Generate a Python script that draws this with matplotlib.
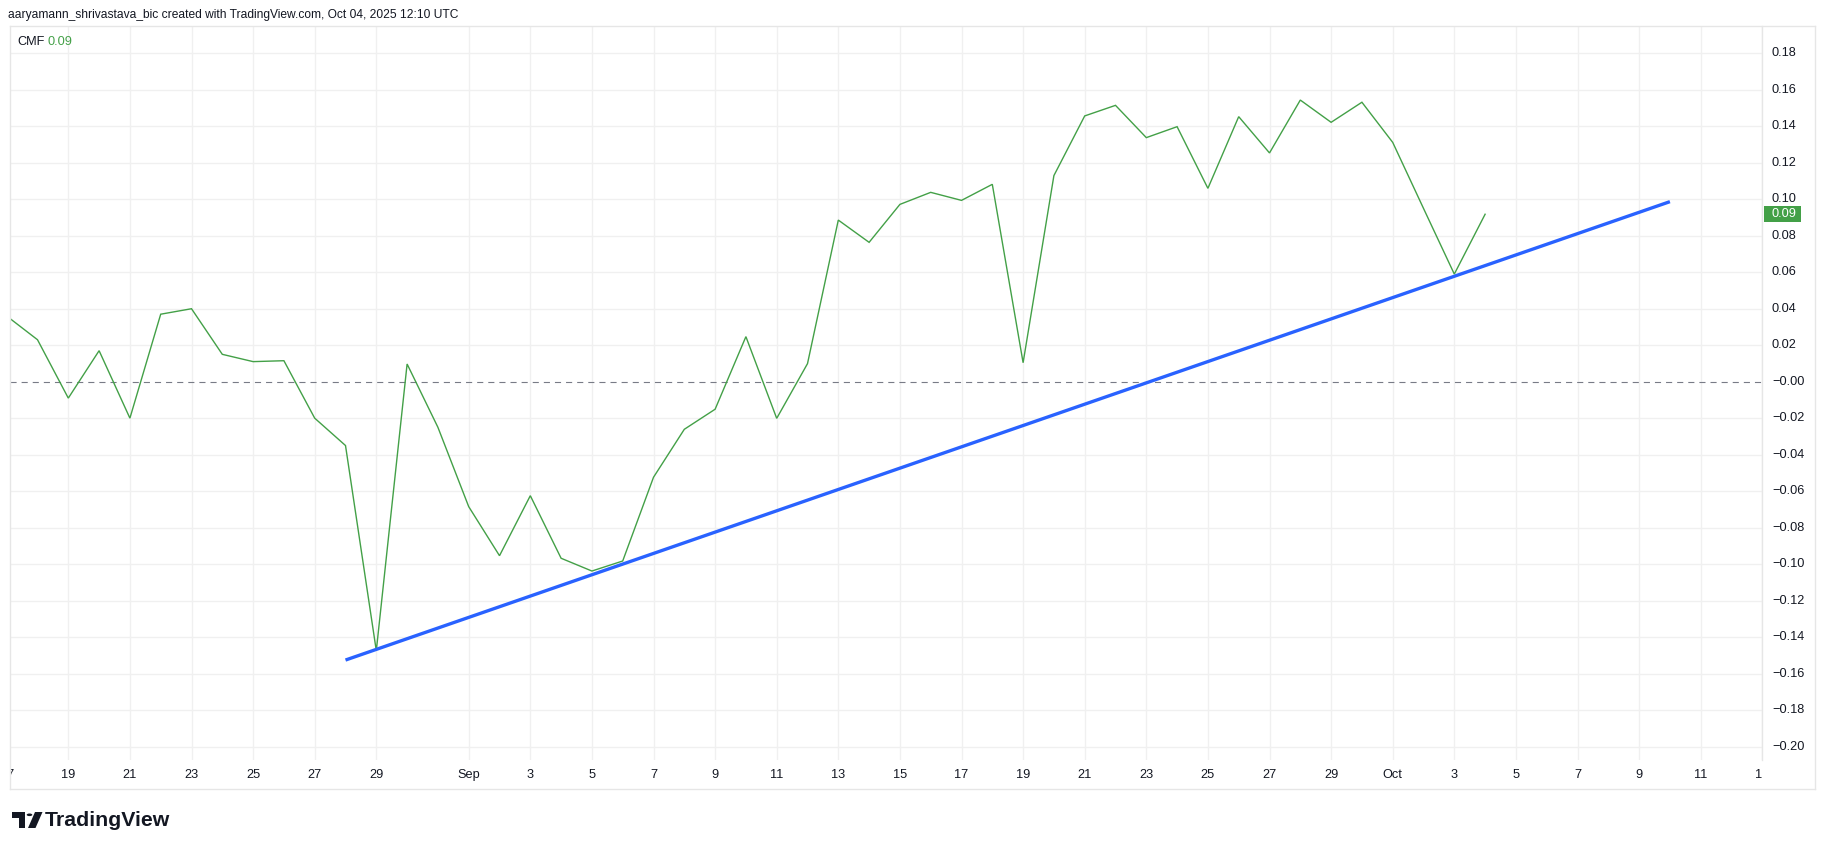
import numpy as np
import pandas as pd
import matplotlib
matplotlib.use("Agg")
import matplotlib.pyplot as plt
import matplotlib.dates as mdates
from matplotlib.patches import Rectangle, Polygon, Circle
from matplotlib.lines import Line2D

plt.rcParams['font.family'] = ['Liberation Sans', 'DejaVu Sans']

# CMF daily values, Aug 17 .. Oct 4 2025
dates = pd.date_range('2025-08-17', '2025-10-04', freq='D')
cmf = [0.036, 0.023, -0.009, 0.017, -0.020, 0.037, 0.040, 0.015, 0.011, 0.0115,
       -0.020, -0.035, -0.1475, 0.0097, -0.025,
       -0.0685, -0.0954, -0.0625, -0.0968, -0.1038, -0.0983, -0.0524, -0.0261,
       -0.0151, 0.0247, -0.0201, 0.0099, 0.0886, 0.0764, 0.0972, 0.1038, 0.0994,
       0.1082, 0.0104, 0.1130, 0.1457, 0.1515, 0.1338, 0.1398, 0.1060, 0.1453,
       0.1254, 0.1544, 0.1422, 0.1532,
       0.1312, 0.095, 0.0590, 0.0918]

# drawn trend line
trend_dates = ['2025-08-28', '2025-10-10']
trend_values = [-0.1526, 0.0987]

# time axis
tick_dates = ['2025-08-17', '2025-08-19', '2025-08-21', '2025-08-23', '2025-08-25',
              '2025-08-27', '2025-08-29', '2025-09-01', '2025-09-03', '2025-09-05',
              '2025-09-07', '2025-09-09', '2025-09-11', '2025-09-13', '2025-09-15',
              '2025-09-17', '2025-09-19', '2025-09-21', '2025-09-23', '2025-09-25',
              '2025-09-27', '2025-09-29', '2025-10-01', '2025-10-03', '2025-10-05',
              '2025-10-07', '2025-10-09', '2025-10-11', '2025-10-13']
tick_labels = ['17', '19', '21', '23', '25', '27', '29', 'Sep', '3', '5', '7', '9',
               '11', '13', '15', '17', '19', '21', '23', '25', '27', '29', 'Oct',
               '3', '5', '7', '9', '11', '13']

# price axis
price_ticks = [0.18, 0.16, 0.14, 0.12, 0.10, 0.08, 0.06, 0.04, 0.02, 0.0,
               -0.02, -0.04, -0.06, -0.08, -0.10, -0.12, -0.14, -0.16, -0.18, -0.20]
price_labels = ['0.18', '0.16', '0.14', '0.12', '0.10', '0.08', '0.06', '0.04',
                '0.02', '\u22120.00', '\u22120.02', '\u22120.04', '\u22120.06',
                '\u22120.08', '\u22120.10', '\u22120.12', '\u22120.14', '\u22120.16',
                '\u22120.18', '\u22120.20']

GREEN = '#43A047'
BLUE = '#2962FF'
TEXT = '#131722'
GRID = '#f0f0f0'
BORDER = '#e6e6e6'

W, H = 1825, 849


def fx(x):
    return x / W


def fy(y):
    return 1 - y / H


fig = plt.figure(figsize=(W / 100, H / 100), dpi=100)
fig.patch.set_facecolor('white')

# main pane
ax = fig.add_axes([fx(10), fy(760), (1762 - 10) / W, (760 - 26) / H])
x_num = mdates.date2num(dates)
ref = mdates.date2num(pd.Timestamp('2025-08-19'))
ax.set_xlim(ref - 1.893, ref + 54.99)
ax.set_ylim(-0.2074, 0.1950)
for s in ax.spines.values():
    s.set_visible(False)
ax.set_xticks([])
ax.set_yticks([])

tick_num = mdates.date2num(pd.to_datetime(tick_dates))
for t in tick_num:
    ax.axvline(t, color=GRID, lw=1, zorder=0)
for p in price_ticks:
    if p != 0.0:
        ax.axhline(p, color=GRID, lw=1, zorder=0)

ax.axhline(0, color='#787B86', lw=0.8, dashes=(5.5, 4.5), zorder=1)
ax.plot(x_num, cmf, color=GREEN, lw=1.0, zorder=3, solid_joinstyle='miter')
ax.plot(mdates.date2num(pd.to_datetime(trend_dates)), trend_values, color=BLUE,
        lw=2.4, solid_capstyle='butt', zorder=4)

# time axis strip
ax_t = fig.add_axes([fx(10), fy(789), (1762 - 10) / W, (789 - 760) / H], sharex=ax)
ax_t.set_ylim(0, 1)
ax_t.axis('off')
for t, lab in zip(tick_num, tick_labels):
    ax_t.text(t, 0.47, lab, ha='center', va='center', fontsize=9.2, color=TEXT,
              clip_on=True)

# price axis strip
ax_p = fig.add_axes([fx(1762), fy(760), (1815 - 1762) / W, (760 - 26) / H], sharey=ax)
ax_p.set_xlim(0, 53)
ax_p.axis('off')
for p, lab in zip(price_ticks, price_labels):
    ax_p.text(10, p, lab, ha='left', va='center', fontsize=9.2, color=TEXT)
last = cmf[-1]
ax_p.add_patch(Rectangle((2, last - 0.0044), 37, 0.0088, facecolor=GREEN,
                         edgecolor='none', zorder=5))
ax_p.text(10, last, f'{last:.2f}', ha='left', va='center', fontsize=9.2,
          color='white', zorder=6)

# pane borders
def fline(x0, y0, x1, y1):
    fig.add_artist(Line2D([fx(x0), fx(x1)], [fy(y0), fy(y1)], color=BORDER, lw=1,
                          transform=fig.transFigure))


fline(10, 26, 1815, 26)
fline(10, 26, 10, 789)
fline(1815, 26, 1815, 789)
fline(10, 789, 1815, 789)
fline(1762, 26, 1762, 760)

# header and legend
fig.text(fx(8), fy(15), 'aaryamann_shrivastava_bic created with TradingView.com, '
         'Oct 04, 2025 12:10 UTC', ha='left', va='center', fontsize=8.65, color=TEXT)
fig.text(fx(17), fy(42), 'CMF', ha='left', va='center', fontsize=9.2, color=TEXT)
fig.text(fx(47), fy(42), f'{last:.2f}', ha='left', va='center', fontsize=9.2,
         color=GREEN)

# TradingView logo
def fpoly(pts):
    fig.add_artist(Polygon([(fx(a), fy(b)) for a, b in pts], closed=True,
                           facecolor=TEXT, edgecolor='none',
                           transform=fig.transFigure))


fpoly([(12, 812), (25, 812), (25, 828), (18.5, 828), (18.5, 817.5), (12, 817.5)])
fpoly([(35, 812), (42.5, 812), (35.5, 828), (28, 828)])
fig.add_artist(Circle((fx(29.5), fy(814.8)), 2.8 / W, facecolor=TEXT,
                      edgecolor='none', transform=fig.transFigure))
fig.text(fx(45), fy(820.5), 'TradingView', ha='left', va='center', fontsize=15.3,
         fontweight='bold', color=TEXT)

fig.savefig('out.png', dpi=100)
